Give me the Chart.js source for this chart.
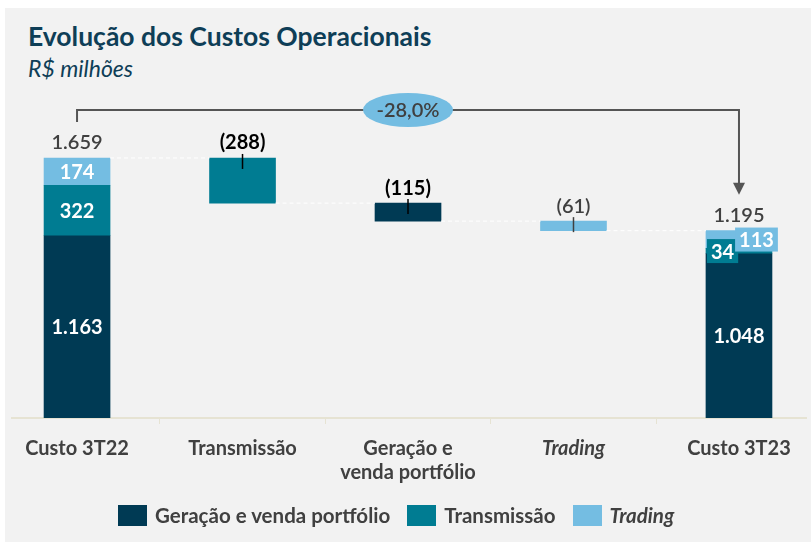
<!DOCTYPE html>
<html>
<head>
<meta charset="utf-8">
<script src="https://cdn.jsdelivr.net/npm/chart.js@4.4.0/dist/chart.umd.min.js"></script>
<style>
  html, body { margin: 0; padding: 0; background: #ffffff; overflow: hidden; }
  body { width: 811px; height: 542px; position: relative; font-family: Lato, sans-serif; }
  .panel { position: absolute; left: 5px; top: 8px; right: 0; bottom: 0; background: #f2f2f2; }
  .title { position: absolute; left: 28px; top: 20px; font-size: 26.5px; font-weight: bold; color: #0e3e57; white-space: nowrap; }
  .subtitle { position: absolute; left: 28px; top: 54px; font-size: 23px; font-style: italic; color: #0e3e57; }
  .legend { position: absolute; left: 118px; top: 503px; display: flex; align-items: center; font-size: 20.5px; font-weight: bold; color: #404040; }
  .legend .box { width: 29px; height: 21px; margin-right: 8px; }
  .legend .item { display: flex; align-items: center; margin-right: 17px; }
  canvas { position: absolute; left: 0; top: 0; }
</style>
</head>
<body>
<div class="panel"></div>
<div class="title">Evolução dos Custos Operacionais</div>
<div class="subtitle">R$ milhões</div>
<canvas id="chart" width="811" height="542"></canvas>
<div class="legend" id="legend"></div>
<script>
const categories = ['Custo 3T22', 'Transmissão', ['Geração e', 'venda portfólio'], 'Trading', 'Custo 3T23'];
const seriesNames = ['Geração e venda portfólio', 'Transmissão', 'Trading'];
const seriesColors = ['#003a54', '#007c92', '#74bde2'];

// per column: totals on the ends, variations in the middle
const geracaoValues = [1163, 0, -115, 0, 1048];
const transmissaoValues = [322, -288, 0, 0, 34];
const tradingValues = [174, 0, 0, -61, 113];
const isTotal = [true, false, false, false, true];

const seriesValues = [geracaoValues, transmissaoValues, tradingValues];

function fmt(n) {
    return String(Math.abs(n)).replace(/\B(?=(\d{3})+(?!\d))/g, '.');
}

// build floating ranges for the waterfall
const ranges = seriesValues.map(() => []);
const levels = [];
let level = 0;
categories.forEach((c, i) => {
    if (isTotal[i]) {
        let base = 0;
        seriesValues.forEach((vals, s) => {
            if (vals[i]) {
                ranges[s].push({ x: i, y: [base, base + vals[i]] });
                base += vals[i];
            }
        });
        level = base;
    } else {
        seriesValues.forEach((vals, s) => {
            if (vals[i]) {
                ranges[s].push({ x: i, y: [level + vals[i], level] });
                level += vals[i];
            }
        });
    }
    levels.push(level);
});

const startTotal = levels[0];
const endTotal = levels[levels.length - 1];
const change = (endTotal / startTotal - 1) * 100;

const waterfallLabels = {
    id: 'waterfallLabels',
    afterDatasetsDraw(chart) {
        const ctx = chart.ctx;
        const xs = chart.scales.x;
        const ys = chart.scales.y;
        const half = 33;
        ctx.save();

        // dashed connectors
        ctx.strokeStyle = '#ffffff';
        ctx.lineWidth = 1;
        ctx.setLineDash([4, 3]);
        for (let i = 0; i < categories.length - 1; i++) {
            const y = ys.getPixelForValue(levels[i]);
            ctx.beginPath();
            ctx.moveTo(xs.getPixelForValue(i) + half, y);
            ctx.lineTo(xs.getPixelForValue(i + 1) - half, y);
            ctx.stroke();
        }
        ctx.setLineDash([]);

        ctx.textAlign = 'center';
        ctx.textBaseline = 'middle';

        categories.forEach((c, i) => {
            const cx = xs.getPixelForValue(i);
            if (isTotal[i]) {
                let base = 0;
                const small = seriesValues.some(v => v[i] > 0 && v[i] < 60);
                seriesValues.forEach((vals, s) => {
                    const v = vals[i];
                    if (!v) return;
                    const yTop = ys.getPixelForValue(base + v);
                    const yBot = ys.getPixelForValue(base);
                    const cy = (yTop + yBot) / 2;
                    ctx.font = 'bold 20px Lato';
                    const txt = fmt(v);
                    if (small && s > 0) {
                        // small segments get a coloured tag beside the bar
                        const w = ctx.measureText(txt).width + 8;
                        const bx = s === 1 ? cx - half + 1 + w / 2 : cx + 17.5;
                        ctx.fillStyle = seriesColors[s];
                        ctx.fillRect(bx - w / 2, cy - 12, w, 24);
                        ctx.fillStyle = '#ffffff';
                        ctx.fillText(txt, bx, cy + 1);
                    } else {
                        ctx.fillStyle = '#ffffff';
                        ctx.fillText(txt, cx, cy + 1);
                    }
                    base += v;
                });
                const top = ys.getPixelForValue(levels[i]);
                ctx.font = '600 20px Lato';
                ctx.fillStyle = '#404040';
                ctx.fillText(fmt(levels[i]), cx, top - 15);
            } else {
                const prev = levels[i - 1];
                const top = ys.getPixelForValue(prev);
                const delta = levels[i] - prev;
                const bold = Math.abs(delta) >= 100;
                ctx.font = (bold ? 'bold ' : '600 ') + '20px Lato';
                ctx.fillStyle = bold ? '#000000' : '#404040';
                ctx.fillText('(' + fmt(delta) + ')', cx, top - 15);
                ctx.strokeStyle = bold ? '#000000' : '#404040';
                ctx.lineWidth = 1.5;
                ctx.beginPath();
                ctx.moveTo(cx, top - 4);
                ctx.lineTo(cx, top + 11);
                ctx.stroke();
            }
        });

        // bracket with change
        const x0 = xs.getPixelForValue(0);
        const x1 = xs.getPixelForValue(categories.length - 1);
        const y0 = ys.getPixelForValue(startTotal) - 36;
        const y1 = ys.getPixelForValue(endTotal) - 36;
        const yb = 110;
        ctx.strokeStyle = '#555555';
        ctx.lineWidth = 2;
        ctx.beginPath();
        ctx.moveTo(x0, y0);
        ctx.lineTo(x0, yb);
        ctx.lineTo(x1, yb);
        ctx.lineTo(x1, y1 - 11);
        ctx.stroke();
        ctx.fillStyle = '#555555';
        ctx.beginPath();
        ctx.moveTo(x1 - 6, y1 - 12);
        ctx.lineTo(x1 + 6, y1 - 12);
        ctx.lineTo(x1, y1);
        ctx.closePath();
        ctx.fill();

        const ex = xs.getPixelForValue(2);
        ctx.fillStyle = '#74bde2';
        ctx.beginPath();
        ctx.ellipse(ex, yb, 45, 17, 0, 0, Math.PI * 2);
        ctx.fill();
        ctx.fillStyle = '#404040';
        ctx.font = '600 20px Lato';
        ctx.fillText(change.toFixed(1).replace('.', ',') + '%', ex, yb + 1);

        ctx.restore();
    }
};

new Chart(document.getElementById('chart'), {
    type: 'bar',
    data: {
        datasets: seriesNames.map((name, s) => ({
            label: name,
            data: ranges[s],
            backgroundColor: seriesColors[s],
            borderWidth: 0,
            barThickness: 66,
            grouped: false
        }))
    },
    options: {
        responsive: false,
        animation: false,
        devicePixelRatio: 1,
        layout: { padding: { left: 12, right: 5, top: 60, bottom: 0 } },
        plugins: {
            legend: { display: false },
            tooltip: { enabled: false }
        },
        scales: {
            x: {
                type: 'linear',
                offset: false,
                min: -0.393,
                max: 4.405,
                afterBuildTicks: scale => {
                    scale.ticks = categories.map((c, i) => ({ value: i }));
                },
                afterFit: scale => { scale.height = 124; },
                grid: {
                    offset: true,
                    drawOnChartArea: false,
                    color: '#e6e3d3',
                    tickLength: 6
                },
                border: { color: '#e6e3d3', width: 2 },
                ticks: {
                    padding: 13,
                    autoSkip: false,
                    maxRotation: 0,
                    color: '#404040',
                    callback: (value, index) => categories[index],
                    font: ctx => ({
                        family: 'Lato',
                        size: 20,
                        weight: 'bold',
                        style: ctx.index === 3 ? 'italic' : 'normal',
                        lineHeight: 1.2
                    })
                }
            },
            y: {
                display: false,
                min: 0,
                max: 2284
            }
        }
    },
    plugins: [waterfallLabels]
});

const legend = document.getElementById('legend');
seriesNames.forEach((name, s) => {
    const item = document.createElement('div');
    item.className = 'item';
    const box = document.createElement('div');
    box.className = 'box';
    box.style.background = seriesColors[s];
    const label = document.createElement('span');
    label.textContent = name;
    if (name === 'Trading') label.style.fontStyle = 'italic';
    item.appendChild(box);
    item.appendChild(label);
    legend.appendChild(item);
});
</script>
</body>
</html>
